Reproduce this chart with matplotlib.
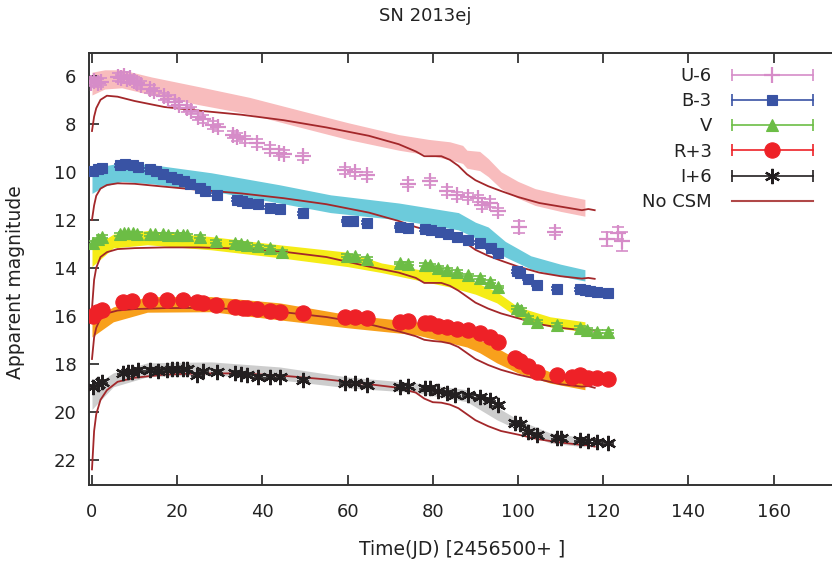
import numpy as np
import matplotlib
matplotlib.use("Agg")
import matplotlib.pyplot as plt
from matplotlib.lines import Line2D
from matplotlib.legend_handler import HandlerLine2D, HandlerTuple

# ---- observed photometry (JD - 2456500), already shifted ----
u_x = [-0.3, 0.5, 1.3, 2.2, 6.0, 6.8, 7.5, 8.3, 9.0, 9.8, 10.6, 11.5, 13.6, 14.5, 17.0, 17.8,
       19.5, 20.5, 22.3, 23.3, 25.0, 26.0, 28.5, 29.5, 33.0, 34.0, 36.0, 38.7, 41.8, 44.0, 45.0,
       49.5, 59.4, 61.7, 64.5, 74.2, 79.3, 83.3, 85.6, 88.3, 90.6, 91.5, 93.4, 95.3, 100.2,
       108.7, 121.0, 123.5, 124.4]
u_mag = [6.28, 6.22, 6.3, 6.25, 6.05, 6.1, 6.0, 6.15, 6.1, 6.2, 6.3, 6.38, 6.55, 6.65, 6.85, 6.95,
         7.1, 7.2, 7.35, 7.45, 7.7, 7.8, 8.05, 8.15, 8.45, 8.55, 8.65, 8.8, 9.05, 9.2, 9.25,
         9.35, 9.93, 10.02, 10.15, 10.5, 10.4, 10.8, 10.98, 11.04, 11.1, 11.4, 11.3, 11.65, 12.3,
         12.5, 12.8, 12.55, 12.9]
u_err = [0.15] * 44 + [0.25, 0.15, 0.3, 0.25, 0.4]

b_x = [0.3, 1.3, 2.3, 6.6, 7.8, 9.6, 10.8, 13.6, 15.0, 16.7, 18.5, 20.0, 21.5, 23.0, 25.4, 26.5,
       29.3, 34.0, 35.3, 36.4, 39.0, 41.8, 44.1, 49.5, 59.8, 61.3, 64.5, 72.3, 74.2, 78.2, 79.5,
       81.7, 83.6, 85.6, 88.3, 91.0, 93.6, 95.3, 99.8, 100.5, 102.3, 104.5, 109.2, 114.6, 115.8,
       117.0, 118.5, 121.1]
b_mag = [9.95, 9.9, 9.83, 9.72, 9.68, 9.72, 9.78, 9.9, 9.98, 10.1, 10.2, 10.3, 10.4, 10.5, 10.67, 10.8,
         10.96, 11.17, 11.22, 11.3, 11.35, 11.5, 11.55, 11.72, 12.05, 12.05, 12.12, 12.3, 12.33, 12.4, 12.42,
         12.5, 12.6, 12.7, 12.83, 12.96, 13.17, 13.38, 14.15, 14.2, 14.46, 14.7, 14.88, 14.9, 14.92,
         14.95, 15.0, 15.04]

v_x = [0.3, 1.3, 2.3, 6.6, 7.5, 8.5, 9.6, 10.5, 13.6, 14.8, 16.7, 17.8, 20.0, 21.3, 22.3, 25.4,
       29.0, 33.6, 35.0, 36.4, 39.0, 41.8, 44.6, 59.8, 61.7, 64.5, 72.3, 74.2, 78.2, 79.3, 81.2,
       83.3, 85.6, 88.3, 91.0, 93.4, 95.3, 99.8, 100.8, 102.3, 104.5, 109.2, 114.6, 116.2, 118.5, 121.1]
v_mag = [12.96, 12.8, 12.7, 12.6, 12.55, 12.55, 12.55, 12.58, 12.6, 12.6, 12.6, 12.62, 12.62, 12.62, 12.65, 12.7,
         12.9, 12.96, 13.0, 13.04, 13.1, 13.17, 13.33, 13.5, 13.52, 13.63, 13.8, 13.83, 13.88, 13.9, 14.0,
         14.08, 14.17, 14.3, 14.42, 14.58, 14.8, 15.67, 15.75, 16.08, 16.25, 16.38, 16.5, 16.58, 16.67, 16.67]

r_x = [0.3, 1.2, 2.3, 7.3, 9.4, 13.6, 17.6, 21.4, 24.6, 26.0, 29.0, 33.6, 35.5, 36.4, 38.7, 41.8,
       44.1, 49.5, 59.4, 61.7, 64.5, 72.3, 74.2, 78.2, 79.3, 81.2, 83.3, 85.6, 88.3, 91.0, 93.4,
       95.3, 99.3, 100.5, 102.3, 104.5, 109.2, 112.7, 114.6, 116.4, 118.5, 121.1]
r_mag = [16.0, 15.85, 15.75, 15.42, 15.38, 15.33, 15.33, 15.33, 15.42, 15.46, 15.54, 15.63, 15.66, 15.67, 15.7, 15.8,
         15.83, 15.88, 16.04, 16.05, 16.08, 16.25, 16.22, 16.3, 16.32, 16.42, 16.46, 16.54, 16.58, 16.7, 16.88,
         17.08, 17.75, 17.9, 18.1, 18.33, 18.46, 18.54, 18.46, 18.58, 18.58, 18.63]

i_x = [0.3, 1.3, 2.3, 7.3, 8.5, 9.4, 10.8, 13.6, 15.5, 17.6, 18.8, 20.0, 21.3, 22.3, 24.6, 26.0,
       29.3, 33.6, 35.0, 36.4, 39.0, 41.8, 44.1, 49.5, 59.4, 61.7, 64.5, 72.3, 74.2, 78.2, 79.3,
       81.2, 83.3, 85.2, 88.3, 91.0, 93.4, 95.3, 99.3, 100.5, 102.3, 104.5, 109.2, 110.0, 114.6,
       116.4, 118.5, 121.1]
i_mag = [18.96, 18.85, 18.75, 18.38, 18.35, 18.33, 18.25, 18.25, 18.28, 18.25, 18.22, 18.2, 18.22, 18.22, 18.46, 18.3,
         18.33, 18.38, 18.42, 18.46, 18.54, 18.54, 18.54, 18.67, 18.8, 18.8, 18.88, 18.96, 18.93, 19.0, 19.02,
         19.15, 19.2, 19.28, 19.3, 19.38, 19.5, 19.7, 20.46, 20.5, 20.83, 20.96, 21.08, 21.1, 21.17,
         21.22, 21.25, 21.3]
opt_err = 0.06

# ---- CSM model bands (upper / lower edge) ----
ub_x = [0, 3, 7, 14, 25, 37, 49, 60, 72, 79, 84, 87, 88, 91, 93, 96, 100, 104, 110, 115.7]
ub_top = [5.85, 5.75, 5.75, 6.05, 6.45, 6.9, 7.45, 7.95, 8.45, 8.65, 8.75, 8.9, 9.1, 9.15, 9.45, 10.0, 10.4, 10.7, 10.95, 11.15]
ub_bot = [6.8, 6.55, 6.5, 6.8, 7.2, 7.6, 8.15, 8.65, 9.1, 9.3, 9.5, 9.65, 9.85, 9.95, 10.2, 10.7, 11.1, 11.4, 11.65, 11.85]

bb_x = [0, 3, 7, 14, 28, 44, 56, 72, 86, 90, 93, 97, 103, 110, 115.7]
bb_top = [10.0, 9.75, 9.62, 9.7, 10.04, 10.54, 10.96, 11.3, 11.7, 12.1, 12.3, 12.9, 13.5, 13.85, 14.08]
bb_bot = [10.9, 10.6, 10.4, 10.5, 10.8, 11.3, 11.7, 12.0, 12.42, 12.75, 13.1, 13.55, 14.05, 14.35, 14.55]

vb_x = [0, 5, 13, 28, 44, 60, 68, 84, 90, 95, 100, 107.5, 115.7]
vb_top = [13.15, 12.6, 12.45, 12.7, 13.04, 13.35, 13.8, 14.3, 14.6, 15.0, 15.63, 16.04, 16.25]
vb_bot = [13.95, 13.17, 13.04, 13.25, 13.58, 13.95, 14.2, 14.8, 15.1, 15.46, 16.08, 16.46, 16.67]

rb_x = [0, 5, 13, 28, 44, 60, 76, 88, 91, 95, 100, 107.5, 115.7]
rb_top = [16.15, 15.63, 15.2, 15.2, 15.46, 15.95, 16.25, 16.67, 17.0, 17.33, 17.83, 18.33, 18.58]
rb_bot = [16.88, 16.25, 15.85, 15.83, 16.17, 16.5, 16.79, 17.3, 17.54, 17.96, 18.38, 18.8, 19.08]

ib_x = [0, 5, 13, 28, 44, 60, 76, 88, 95, 100, 107.5, 115.7]
ib_top = [18.95, 18.38, 17.96, 17.92, 18.13, 18.55, 18.8, 19.08, 19.8, 20.33, 20.88, 21.08]
ib_bot = [19.9, 18.96, 18.54, 18.46, 18.67, 19.0, 19.2, 19.58, 20.33, 20.75, 21.3, 21.46]

# ---- no-CSM model curves ----
m_x = [0, 0.5, 1, 2, 3.5, 6, 10, 17, 25, 35, 45, 55, 65, 72, 76, 78, 80, 82, 84, 86, 88, 90,
       93, 96, 100, 105, 110, 115, 116.5, 118]
mu = [8.3, 7.7, 7.35, 7.0, 6.83, 6.87, 7.05, 7.3, 7.45, 7.62, 7.85, 8.15, 8.5, 8.85, 9.15, 9.35, 9.35, 9.35,
      9.5, 9.75, 10.1, 10.35, 10.6, 10.8, 11.05, 11.3, 11.45, 11.6, 11.55, 11.6]
mb = [12.0, 11.4, 11.0, 10.7, 10.55, 10.48, 10.5, 10.62, 10.75, 10.9, 11.1, 11.35, 11.7, 12.05, 12.3, 12.4,
      12.38, 12.38, 12.5, 12.7, 13.0, 13.25, 13.5, 13.7, 13.95, 14.2, 14.35, 14.45, 14.42, 14.46]
mv = [15.7, 14.5, 14.0, 13.55, 13.35, 13.22, 13.18, 13.15, 13.15, 13.2, 13.33, 13.55, 13.95, 14.2, 14.42,
      14.63, 14.63, 14.63, 14.75, 14.95, 15.2, 15.45, 15.7, 15.9, 16.1, 16.35, 16.5, 16.6, 16.58, 16.62]
mr = [17.8, 16.9, 16.5, 16.1, 15.9, 15.78, 15.72, 15.68, 15.67, 15.72, 15.85, 16.05, 16.35, 16.65, 16.85,
      17.0, 17.05, 17.08, 17.15, 17.3, 17.55, 17.8, 18.05, 18.25, 18.45, 18.65, 18.85, 18.95, 18.93, 19.0]
mi = [22.4, 20.8, 20.1, 19.5, 19.1, 18.75, 18.58, 18.45, 18.4, 18.4, 18.5, 18.65, 18.85, 19.0, 19.2,
      19.45, 19.6, 19.62, 19.7, 19.85, 20.1, 20.35, 20.6, 20.8, 20.95, 21.15, 21.28, 21.38, 21.4, 21.45]

labels = ['U-6', 'B-3', 'V', 'R+3', 'I+6']
data_colors = ['#d68cc8', '#3953a4', '#6cbd45', '#ee2127', '#231f20']
band_colors = ['#f8bcbd', '#6ccbdb', '#f5ec17', '#f8a01c', '#cdcdcd']
markers = ['+', 's', '^', 'o', (6, 2, 0)]
msizes = [11, 7.5, 9, 11, 11]
model_color = '#a3272a'

plt.rcParams['font.family'] = 'DejaVu Sans'
fig = plt.figure(figsize=(8.32, 5.63), dpi=100)
ax = fig.add_axes([89 / 832, 1 - 485 / 563, 743 / 832, 432 / 563])

bands = [(ub_x, ub_top, ub_bot), (bb_x, bb_top, bb_bot), (vb_x, vb_top, vb_bot),
         (rb_x, rb_top, rb_bot), (ib_x, ib_top, ib_bot)]
for (bx, bt, bl), c in zip(bands, band_colors):
    ax.fill_between(bx, bt, bl, color=c, lw=0, zorder=1)

for m in [mu, mb, mv, mr, mi]:
    ax.plot(m_x, m, color=model_color, lw=1.3, zorder=2)

series = [(u_x, u_mag, u_err), (b_x, b_mag, opt_err), (v_x, v_mag, opt_err),
          (r_x, r_mag, opt_err), (i_x, i_mag, opt_err)]
for k, (sx, sy, se) in enumerate(series):
    mew = 1.6 if k in (0, 4) else 0.8
    ax.errorbar(sx, sy, yerr=se, fmt='none', ecolor=data_colors[k], elinewidth=1.2,
                capsize=4, capthick=1.2, zorder=3)
    ax.plot(sx, sy, ls='none', marker=markers[k], ms=msizes[k], color=data_colors[k],
            mec=data_colors[k], mew=mew, zorder=4)

ax.set_xlim(-0.7, 173.7)
ax.set_ylim(23.05, 5.05)
ax.set_xticks(np.arange(0, 161, 20))
ax.set_yticks(np.arange(6, 23, 2))
ax.tick_params(direction='in', length=7, width=1.2, top=True, right=False,
               labelsize=13, colors='#222222', pad=9)
ax.tick_params(axis='x', pad=13)
for side in ['left', 'bottom', 'top']:
    ax.spines[side].set_linewidth(1.4)
    ax.spines[side].set_color('#333333')
ax.spines['right'].set_visible(False)

ax.set_xlabel('Time(JD) [2456500+ ]', fontsize=13.5, color='#222222')
ax.xaxis.set_label_coords(0.502, -0.128)
ax.set_ylabel('Apparent magnitude', fontsize=13.5, color='#222222')
ax.yaxis.set_label_coords(-0.086, 0.47)
fig.text(0.511, 1 - 16 / 563, 'SN 2013ej', ha='center', va='center', fontsize=13, color='#222222')

# legend in gnuplot style: label, then |--marker--|
handles = []
hmap = {}
for k in range(5):
    caps = Line2D([], [], color=data_colors[k], lw=1.2, marker='|', ms=9, mew=1.2)
    mk = Line2D([], [], ls='none', color=data_colors[k], marker=markers[k], ms=msizes[k],
                mew=1.6 if k in (0, 4) else 0.8)
    hmap[caps] = HandlerLine2D(numpoints=2, marker_pad=0)
    hmap[mk] = HandlerLine2D(numpoints=1)
    handles.append((caps, mk))
nocsm = Line2D([], [], color='#b04848', lw=1.5)
handles.append(nocsm)
hmap[tuple] = HandlerTuple(ndivide=1, pad=0)
leg = ax.legend(handles, labels + ['No CSM'], handler_map=hmap, loc='upper right',
                bbox_to_anchor=(813 / 832, 1 - 67 / 563), bbox_transform=fig.transFigure,
                frameon=False, markerfirst=False, fontsize=13, handlelength=4.5,
                handletextpad=1.1, labelspacing=0.4, borderpad=0, borderaxespad=0)
for t in leg.get_texts():
    t.set_color('#222222')

fig.savefig('out.png', dpi=100)
